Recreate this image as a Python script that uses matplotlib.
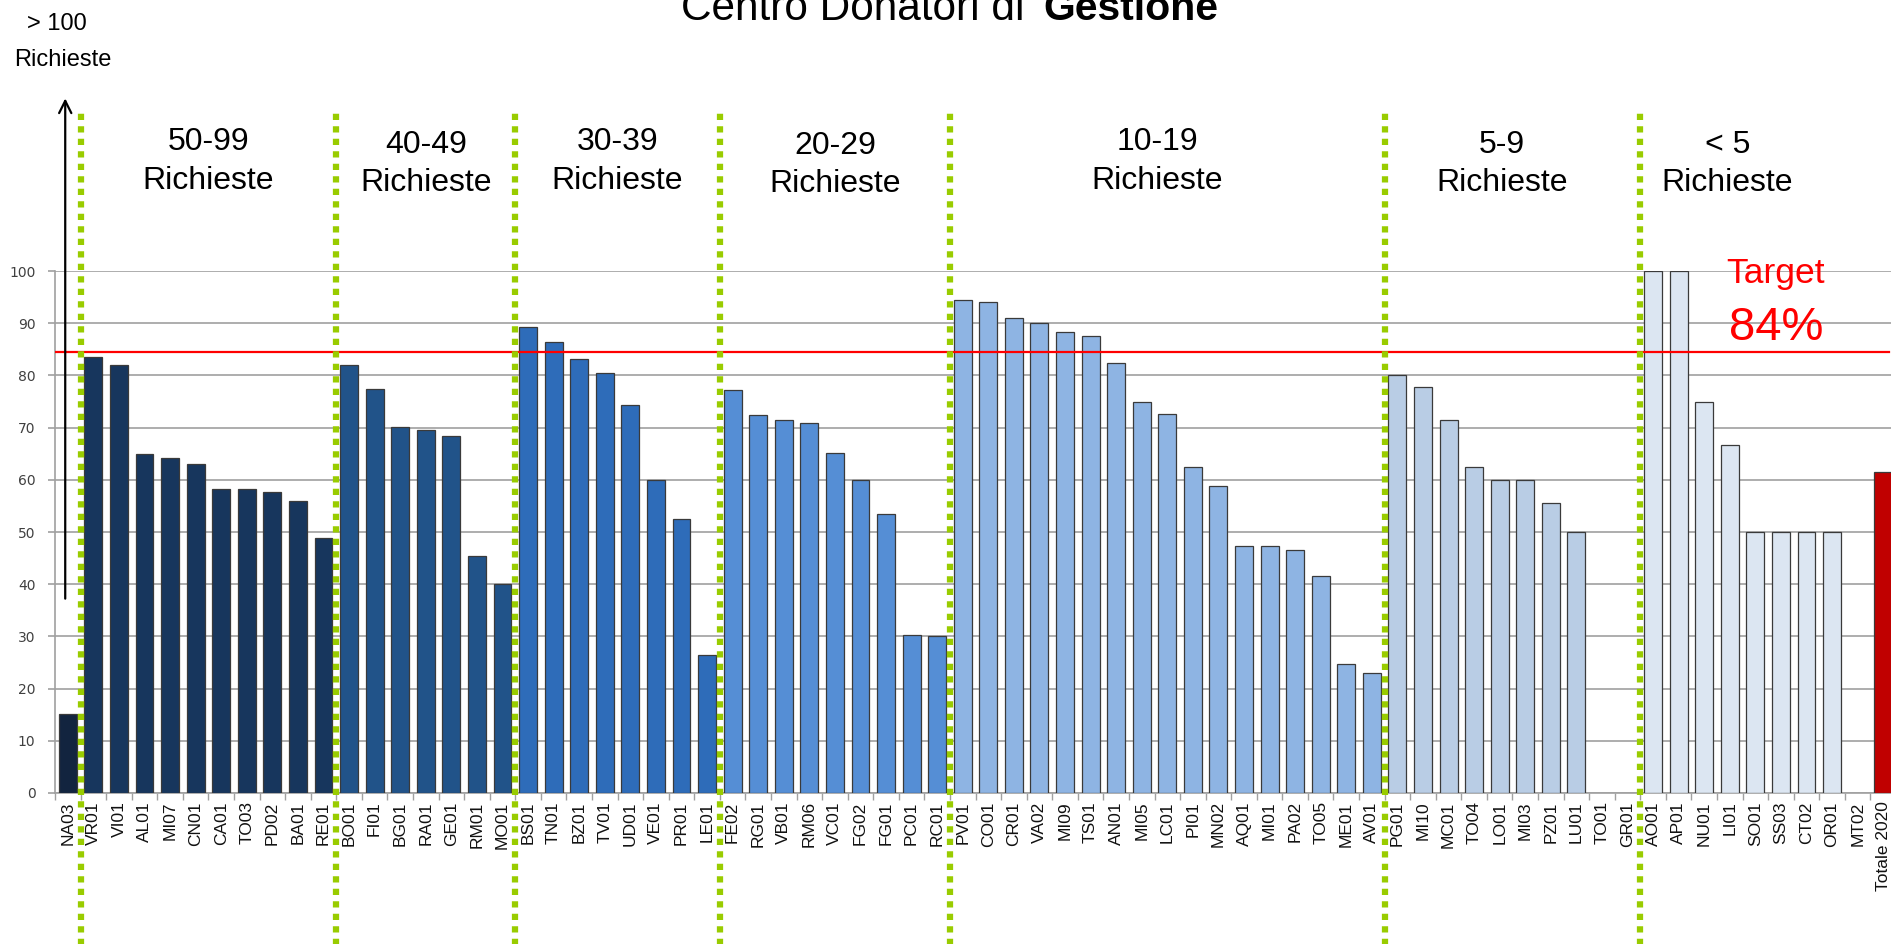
import matplotlib
matplotlib.use("Agg")
import matplotlib.pyplot as plt
from matplotlib import font_manager as fm
import numpy as np

# ---------------- data ----------------
codes_over100 = ["NA03"]
vals_over100 = [15.1]

codes_50_99 = ["VR01", "VI01", "AL01", "MI07", "CN01", "CA01", "TO03", "PD02", "BA01", "RE01"]
vals_50_99 = [83.6, 81.9, 65.0, 64.2, 63.1, 58.3, 58.3, 57.6, 56.0, 48.9]

codes_40_49 = ["BO01", "FI01", "BG01", "RA01", "GE01", "RM01", "MO01"]
vals_40_49 = [81.9, 77.3, 70.1, 69.6, 68.4, 45.4, 40.0]

codes_30_39 = ["BS01", "TN01", "BZ01", "TV01", "UD01", "VE01", "PR01", "LE01"]
vals_30_39 = [89.2, 86.4, 83.2, 80.5, 74.3, 60.0, 52.5, 26.5]

codes_20_29 = ["FE02", "RG01", "VB01", "RM06", "VC01", "FG02", "FG01", "PC01", "RC01"]
vals_20_29 = [77.2, 72.4, 71.4, 70.8, 65.1, 60.0, 53.5, 30.2, 30.0]

codes_10_19 = ["PV01", "CO01", "CR01", "VA02", "MI09", "TS01", "AN01", "MI05", "LC01",
               "PI01", "MN02", "AQ01", "MI01", "PA02", "TO05", "ME01", "AV01"]
vals_10_19 = [94.4, 94.1, 91.0, 90.0, 88.4, 87.6, 82.4, 75.0, 72.7,
              62.4, 58.9, 47.3, 47.3, 46.5, 41.5, 24.8, 22.9]

codes_5_9 = ["PG01", "MI10", "MC01", "TO04", "LO01", "MI03", "PZ01", "LU01", "TO01", "GR01"]
vals_5_9 = [80.0, 77.8, 71.4, 62.4, 60.0, 60.0, 55.6, 50.0, 0, 0]

codes_lt5 = ["AO01", "AP01", "NU01", "LI01", "SO01", "SS03", "CT02", "OR01", "MT02"]
vals_lt5 = [100, 100, 75.0, 66.7, 50, 50, 50, 50, 0]

codes_total = ["Totale 2020"]
vals_total = [61.5]

target = 84.4
target_label = "84%"

group_titles = ["50-99\nRichieste", "40-49\nRichieste", "30-39\nRichieste", "20-29\nRichieste",
                "10-19\nRichieste", "5-9\nRichieste", "< 5\nRichieste"]

# ---------------- styling ----------------
names = {f.name for f in fm.fontManager.ttflist}
SANS = "Liberation Sans" if "Liberation Sans" in names else "DejaVu Sans"
plt.rcParams["font.family"] = [SANS, "DejaVu Sans"]

groups = [
    (codes_over100, vals_over100, "#12243f"),
    (codes_50_99, vals_50_99, "#17365d"),
    (codes_40_49, vals_40_49, "#215389"),
    (codes_30_39, vals_30_39, "#2e6cb9"),
    (codes_20_29, vals_20_29, "#558ed5"),
    (codes_10_19, vals_10_19, "#8eb4e3"),
    (codes_5_9, vals_5_9, "#b9cde5"),
    (codes_lt5, vals_lt5, "#dce6f2"),
    (codes_total, vals_total, "#c00000"),
]

labels, values, colors, sizes = [], [], [], []
for c, v, col in groups:
    labels += c
    values += v
    colors += [col] * len(c)
    sizes.append(len(c))

n = len(labels)
x = np.arange(n)

W, H = 1891, 944
fig = plt.figure(figsize=(W / 100, H / 100), dpi=100)
ax = fig.add_axes([55 / W, 151 / H, (n * 25.57) / W, 522 / H])

vals_arr = np.array(values, dtype=float)
edge = ["#3a3a3a" if v > 0 else "none" for v in vals_arr]
ax.bar(x, vals_arr, width=0.7, color=colors, edgecolor=edge, linewidth=0.9, zorder=3)

ax.set_xlim(-0.5, n - 0.5)
ax.set_ylim(0, 100)
ax.set_yticks(np.arange(0, 101, 10))
ax.yaxis.grid(True, color="#a0a0a0", lw=1.2, zorder=0)
ax.set_axisbelow(True)
for s in ["top", "right"]:
    ax.spines[s].set_visible(False)
for s in ["left", "bottom"]:
    ax.spines[s].set_color("#a0a0a0")
    ax.spines[s].set_linewidth(1.2)

ax.set_xticks(x)
ax.set_xticklabels(labels, rotation=90, fontsize=12.5, color="#111111")
ax.tick_params(axis="x", which="major", length=0, pad=6)
ax.set_xticks(np.arange(-0.5, n, 1), minor=True)
ax.tick_params(axis="x", which="minor", length=5, color="#a0a0a0", width=1)
ax.tick_params(axis="y", length=5, color="#a0a0a0", width=1.2, pad=9)
for t in ax.get_yticklabels():
    t.set_fontfamily("DejaVu Sans")
    t.set_fontsize(10)
    t.set_color("#404040")

# target line and label
ax.axhline(target, xmin=0, xmax=0.996, color="#ff0000", lw=1.6, zorder=4)
ax.text(66.8, 97.7, "Target", color="#ff0000", fontsize=25.5, ha="center", va="baseline")
ax.text(66.8, 86.8, target_label, color="#ff0000", fontsize=34, ha="center", va="baseline")

# group separators (green dotted)
bounds = np.cumsum(sizes)[:-2] - 0.5
for b in bounds:
    ax.plot([b, b], [-32, 130.5], ls=(0, (1, 1)), lw=4.5, color="#99cc00",
            clip_on=False, zorder=6, dash_capstyle="butt", solid_capstyle="butt")

# group titles
title_x = [5.5, 14.0, 21.5, 30.0, 42.6, 56.1, 64.9]
title_dy = [0, -0.5, 0, -0.6, 0, -0.4, -0.5]
for gx, gy, t in zip(title_x, title_dy, group_titles):
    l1, l2 = t.split("\n")
    ax.text(gx, 123.1 + gy, l1, fontsize=23, ha="center", va="baseline", clip_on=False)
    ax.text(gx, 115.8 + gy, l2, fontsize=23, ha="center", va="baseline", clip_on=False)

# arrow > 100
ax.annotate("", xy=(-0.1, 133.6), xytext=(-0.1, 36.7),
            arrowprops=dict(arrowstyle="->", lw=1.6, color="black", mutation_scale=22),
            annotation_clip=False, zorder=7)
fig.text(57 / W, 1 - 30.5 / H, "> 100", fontsize=17, ha="center", va="baseline")
fig.text(63 / W, 1 - 66.5 / H, "Richieste", fontsize=17, ha="center", va="baseline")

# title (partly cut off at the top edge, as in the original)
fig.text(681 / W, 1 - 20 / H, "Centro Donatori di", fontsize=30.5, ha="left", va="baseline")
fig.text(1218 / W, 1 - 20 / H, "Gestione", fontsize=29.5, fontweight="bold", ha="right", va="baseline")

fig.savefig("out.png", dpi=100)
